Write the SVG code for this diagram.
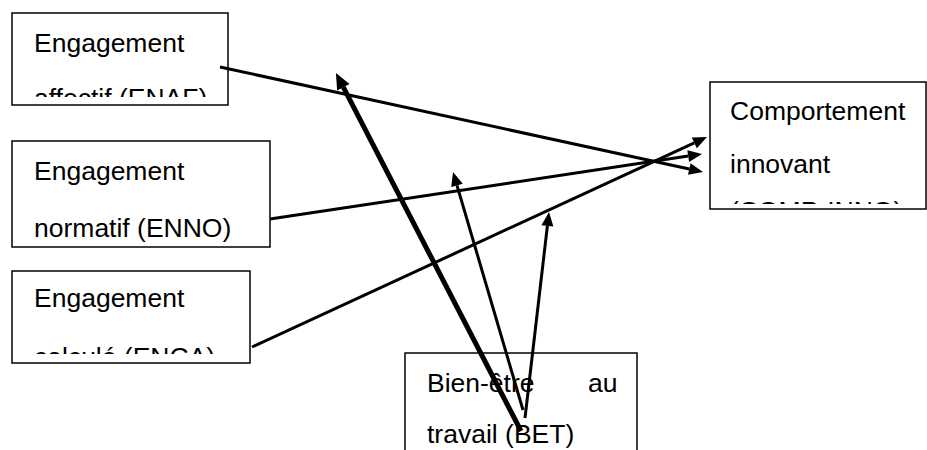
<svg xmlns="http://www.w3.org/2000/svg" width="927" height="450" viewBox="0 0 927 450">
<style>
.box{fill:#fff;stroke:#000;stroke-width:1.5}
.t{font-family:"Liberation Sans",Arial,sans-serif;font-size:26.5px;fill:#000}
.c{fill:none;stroke:#000;stroke-width:3}
.ck{fill:none;stroke:#000;stroke-width:5}
</style>
<defs>
<marker id="ah" markerUnits="userSpaceOnUse" markerWidth="16" markerHeight="14" refX="0" refY="6" orient="auto" overflow="visible"><path d="M0,0 L14,6 L0,12 z" fill="#000"/></marker>
<marker id="ahk" markerUnits="userSpaceOnUse" markerWidth="18" markerHeight="16" refX="0" refY="7" orient="auto" overflow="visible"><path d="M0,0 L16,7 L0,14 z" fill="#000"/></marker>
<clipPath id="c1"><rect x="12" y="13" width="216" height="84"/></clipPath>
<clipPath id="c3"><rect x="12" y="271" width="238" height="83"/></clipPath>
<clipPath id="c4"><rect x="710" y="82" width="216" height="122"/></clipPath>
</defs>
<g id="ENAF">
<rect class="box" x="12" y="13" width="216" height="92"/>
<g clip-path="url(#c1)"><text class="t" x="34" y="107">affectif (ENAF)</text><text class="t" x="34" y="52">Engagement</text></g>
</g>
<g id="ENNO">
<rect class="box" x="12" y="141" width="258" height="106"/>
<text class="t" x="34" y="180">Engagement</text><text class="t" x="34" y="237">normatif (ENNO)</text>
</g>
<g id="ENCA">
<rect class="box" x="12" y="271" width="238" height="92"/>
<g clip-path="url(#c3)"><text class="t" x="34" y="307">Engagement</text><text class="t" x="34" y="366">calculé (ENCA)</text></g>
</g>
<g id="COMPINNO">
<rect class="box" x="710" y="82" width="216" height="127"/>
<g clip-path="url(#c4)"><text class="t" x="730" y="120">Comportement</text><text class="t" x="730" y="173">innovant</text><text class="t" x="730" y="220">(COMP-INNO)</text></g>
</g>
<g id="BET">
<rect class="box" x="405" y="353" width="232" height="110"/>
<text class="t" y="392"><tspan x="427">Bien-être </tspan><tspan x="588">au</tspan></text>
<text class="t" x="427" y="443">travail (BET)</text>
</g>
<g id="connectors">
<path class="c" d="M220,67 L689.3,169" marker-end="url(#ah)"/>
<path class="c" d="M270,219 L688.2,156.1" marker-end="url(#ah)"/>
<path class="c" d="M252,347 L694.3,142.9" marker-end="url(#ah)"/>
<path class="ck" d="M521,431 L343.3,87.2" marker-end="url(#ahk)"/>
<path class="c" d="M523,410 L457,185.4" marker-end="url(#ah)"/>
<path class="c" d="M525,418 L547.4,225.9" marker-end="url(#ah)"/>
</g>
</svg>
